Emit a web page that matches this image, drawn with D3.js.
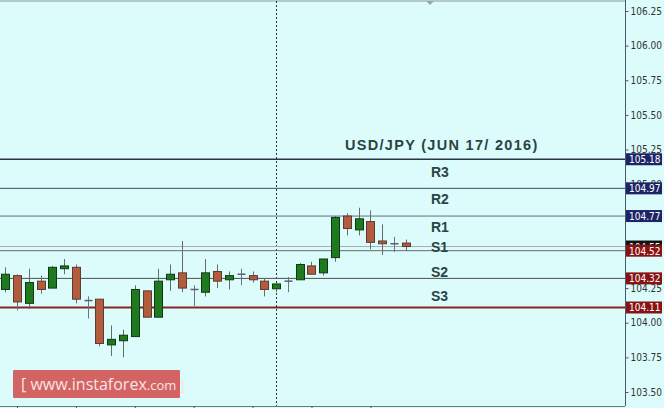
<!DOCTYPE html>
<html><head><meta charset="utf-8">
<script src="https://cdn.jsdelivr.net/npm/d3@7"></script>
<style>
html,body{margin:0;padding:0;background:#dcfcfc;overflow:hidden;}
svg{display:block;}
</style></head>
<body>
<svg id="c" width="664" height="408"></svg>
<script>
// OHLC data
const opens  = [104.24,104.34,104.14,104.30,104.25,104.39,104.40,104.16,104.17,103.84,103.87,103.90,104.23,104.04,104.31,104.36,104.24,104.22,104.37,104.31,104.35,104.34,104.30,104.245,104.30,104.31,104.41,104.36,104.47,104.77,104.67,104.73,104.59,104.57,104.575];
const highs  = [104.40,104.35,104.39,104.34,104.41,104.46,104.42,104.19,104.17,103.98,103.95,104.27,104.23,104.39,104.42,104.59,104.27,104.46,104.42,104.37,104.39,104.37,104.32,104.28,104.33,104.43,104.44,104.46,104.77,104.79,104.83,104.81,104.71,104.62,104.60];
const lows   = [104.22,104.09,104.10,104.21,104.25,104.35,104.14,104.03,103.83,103.76,103.75,103.90,104.04,104.04,104.23,104.22,104.12,104.19,104.25,104.24,104.27,104.29,104.19,104.22,104.22,104.31,104.35,104.34,104.44,104.63,104.63,104.53,104.49,104.51,104.52];
const closes = [104.35,104.15,104.29,104.24,104.40,104.41,104.17,104.16,103.85,103.88,103.91,104.24,104.04,104.30,104.35,104.25,104.24,104.36,104.30,104.34,104.35,104.31,104.24,104.28,104.30,104.42,104.35,104.46,104.76,104.68,104.75,104.58,104.57,104.57,104.55];

const yTicks = [103.50,103.75,104.00,104.25,104.50,104.75,105.00,105.25,105.50,105.75,106.00,106.25];
const hiddenTickLabels = [104.50,104.75]; // covered by price boxes in the original
const levelValues = [105.18,104.97,104.77,104.55,104.52,104.32,104.11];
const levelNames  = ["R3","R2","R1","S1","S2","S3"];
const levelNameValues = [105.088,104.893,104.69,104.546,104.366,104.192];
const title = "USD/JPY (JUN 17/ 2016)";
const xTickIndices = [1,6,11,16,21,26,31];
const markerIndex = 23;

const svg = d3.select("#c");
const W = 664, H = 408;
const plotRight = 625, plotTop = 1, plotBottom = 406;

const y = d3.scaleLinear().domain([103.50,106.25]).range([392,11]);
const x = d3.scaleLinear().domain([0,34]).range([5.2,5.2+34*11.78]);

// frame
svg.append("rect").attr("x",0).attr("y",0).attr("width",W).attr("height",H).attr("fill","#dcfcfc");
svg.append("line").attr("x1",0).attr("x2",plotRight).attr("y1",plotTop).attr("y2",plotTop).attr("stroke","#8a9a9a").attr("stroke-width",1);

// vertical dashed marker
svg.append("line").attr("x1",Math.round(x(markerIndex))+0.5).attr("x2",Math.round(x(markerIndex))+0.5)
  .attr("y1",plotTop).attr("y2",plotBottom).attr("stroke","#333").attr("stroke-width",1).attr("stroke-dasharray","2,2");

// small triangle at top
svg.append("path").attr("d","M426,1 L434,1 L430,5 Z").attr("fill","#9aa6a6");

// level lines
const levelStyle = [
  {c:"#2a3648",w:1.3},{c:"#3a4858",w:1},{c:"#607080",w:1},{c:"#a8aeb0",w:1},
  {c:"#6a6a6a",w:1},{c:"#505050",w:1},{c:"#8a2222",w:2}
];
levelValues.forEach((v,i)=>{
  svg.append("line").attr("x1",0).attr("x2",plotRight).attr("y1",y(v)).attr("y2",y(v))
    .attr("stroke",levelStyle[i].c).attr("stroke-width",levelStyle[i].w);
});

// candles
const data = opens.map((o,i)=>({i,o,h:highs[i],l:lows[i],c:closes[i]}));
const bw = 8;
const g = svg.append("g");
data.forEach(d=>{
  const cx = Math.round(x(d.i))+0.5;
  const doji = Math.abs(d.o-d.c) < 0.008;
  const up = d.c > d.o;
  const wick = doji ? "#6a7480" : "#6a6a6a";
  g.append("line").attr("x1",cx).attr("x2",cx).attr("y1",y(d.h)).attr("y2",y(d.l))
    .attr("stroke",wick).attr("stroke-width",1);
  if (doji) {
    g.append("line").attr("x1",cx-4).attr("x2",cx+4).attr("y1",y(d.o)).attr("y2",y(d.o))
      .attr("stroke","#5a6070").attr("stroke-width",1.5);
  } else {
    const top = y(Math.max(d.o,d.c)), bot = y(Math.min(d.o,d.c));
    g.append("rect").attr("x",cx-bw/2).attr("y",top).attr("width",bw).attr("height",Math.max(bot-top,1.5))
      .attr("fill", up ? "#1f7a1f" : "#b25c3e")
      .attr("stroke", up ? "#0e3a12" : "#5e3a30").attr("stroke-width",1);
  }
});

// right axis
svg.append("line").attr("x1",plotRight+0.5).attr("x2",plotRight+0.5).attr("y1",0).attr("y2",plotBottom)
  .attr("stroke","#4a5a6a").attr("stroke-width",1);
const yAxis = d3.axisRight(y).tickValues(yTicks)
  .tickFormat(v => hiddenTickLabels.includes(v) ? "" : d3.format(".2f")(v)).tickSize(3).tickPadding(2);
const ya = svg.append("g").attr("transform",`translate(${plotRight+0.5},0)`).call(yAxis);
ya.select(".domain").remove();
ya.selectAll("line").attr("stroke","#555");
ya.selectAll("text").attr("fill","#333").style("font-family","'DejaVu Sans Condensed','DejaVu Sans',sans-serif").style("font-size","10px");

// level price boxes
const boxFill = ["#1c2466","#1c2466","#1c2466","#111111","#8a1212","#8a1212","#8a1212"];
levelValues.forEach((v,i)=>{
  const yy = y(v);
  const bg = svg.append("g");
  bg.append("rect").attr("x",plotRight+1).attr("y",yy-6).attr("width",36).attr("height",12).attr("fill",boxFill[i]);
  bg.append("text").attr("x",plotRight+4).attr("y",yy+4).text(d3.format(".2f")(v))
    .attr("fill","#fff").style("font-family","'DejaVu Sans Condensed','DejaVu Sans',sans-serif").style("font-size","10px");
});

// bottom axis
svg.append("line").attr("x1",0).attr("x2",plotRight).attr("y1",plotBottom+0.5).attr("y2",plotBottom+0.5)
  .attr("stroke","#6a7a7a").attr("stroke-width",1);
const xAxis = d3.axisBottom(x).tickValues(xTickIndices).tickFormat("").tickSize(3);
const xa = svg.append("g").attr("transform",`translate(0,${plotBottom})`).call(xAxis);
xa.select(".domain").remove();
xa.selectAll("line").attr("stroke","#555");

// title and level names
svg.append("text").attr("x",345).attr("y",150).text(title)
  .attr("fill","#2a4444").style("font-family","'Liberation Sans',Arial,sans-serif").style("font-weight","bold")
  .style("font-size","14.5px").style("letter-spacing","1.3px");
levelNames.forEach((n,i)=>{
  svg.append("text").attr("x",431).attr("y",y(levelNameValues[i])+5).text(n)
    .attr("fill","#2a4444").style("font-family","'Liberation Sans',Arial,sans-serif").style("font-weight","bold")
    .style("font-size","14px");
});

// watermark
const wm = svg.append("g");
wm.append("rect").attr("x",13).attr("y",370).attr("width",167).attr("height",28).attr("fill","#d46464").attr("rx",1);
const wt = wm.append("text").attr("x",21).attr("y",390).attr("fill","#f4e4e4")
  .style("font-family","'Open Sans','DejaVu Sans',sans-serif").style("font-size","16px");
wt.append("tspan").text("[  www.instaforex");
wt.append("tspan").text(".com").style("font-size","13px");
wt.append("tspan").text(" ]").style("font-size","14px");
</script>
</body></html>
